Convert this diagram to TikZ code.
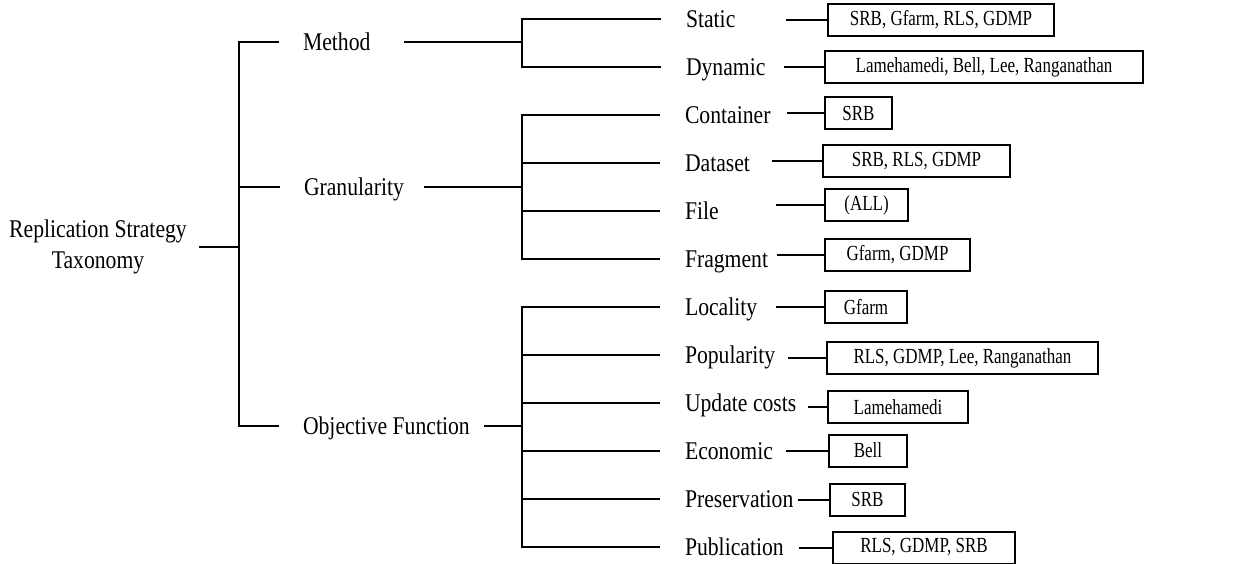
\documentclass[tikz,border=0pt]{standalone}
\usepackage{fontspec}
\setmainfont{Liberation Serif}[FakeStretch=0.85]
\newfontfamily\tagfont{Liberation Serif}[FakeStretch=0.79]
\usetikzlibrary{positioning}

\begin{document}
\begin{tikzpicture}[x=1pt, y=-1pt, line width=2pt,
				   every node/.style={inner sep=0pt},
				   lbl/.style={anchor=west, text height=17pt, text depth=0pt, font=\fontsize{25.5}{31}\selectfont},
				   tag/.style={draw, anchor=west, minimum height=32pt, font=\tagfont\fontsize{21.5}{26}\selectfont},
				   fork/.style={shorten >=24pt}]
\useasboundingbox (0,0) rectangle (1241,564);

% root and first level
\node[align=center, font=\fontsize{25.5}{31}\selectfont] (root) at (98,247) {Replication Strategy\\Taxonomy};
\coordinate (rfork) at (239,247);
\node[lbl] (method) at (302,42) {Method};
\node[lbl] (gran) at (303,187) {Granularity};
\node[lbl] (objfn) at (302,426) {Objective Function};
\draw ([xshift=11pt]root.east) -- (rfork);
\draw[shorten >=23pt] (rfork) |- (method.west);
\draw[shorten >=23pt] (rfork) |- (gran.west);
\draw[shorten >=23pt] (rfork) |- (objfn.west);

% second level
\coordinate (mfork) at (522,42);
\coordinate (gfork) at (522,187);
\coordinate (ofork) at (522,426);
\draw ([xshift=33pt]method.east) -- (mfork);
\draw ([xshift=19pt]gran.east) -- (gfork);
\draw ([xshift=13pt]objfn.east) -- (ofork);

\node[lbl] (static) at (685,19) {Static};
\node[lbl] (dynamic) at (685,67) {Dynamic};
\node[lbl] (container) at (684,115) {Container};
\node[lbl] (dataset) at (684,163) {Dataset};
\node[lbl] (file) at (684,211) {File};
\node[lbl] (fragment) at (684,259) {Fragment};
\node[lbl] (locality) at (684,307) {Locality};
\node[lbl] (popularity) at (684,355) {Popularity};
\node[lbl] (update) at (684,403) {Update costs};
\node[lbl] (economic) at (684,451) {Economic};
\node[lbl] (preserv) at (684,499) {Preservation};
\node[lbl] (publication) at (684,547) {Publication};

\draw[fork] (mfork) |- (static.west);
\draw[fork] (mfork) |- (dynamic.west);
\draw[fork] (gfork) |- (container.west);
\draw[fork] (gfork) |- (dataset.west);
\draw[fork] (gfork) |- (file.west);
\draw[fork] (gfork) |- (fragment.west);
\draw[fork] (ofork) |- (locality.west);
\draw[fork] (ofork) |- (popularity.west);
\draw[fork] (ofork) |- (update.west);
\draw[fork] (ofork) |- (economic.west);
\draw[fork] (ofork) |- (preserv.west);
\draw[fork] (ofork) |- (publication.west);

% systems
\node[tag, minimum width=226pt] (staticb) at (827,20) {SRB, Gfarm, RLS, GDMP};
\node[tag, minimum width=318pt] (dynamicb) at (824,67.5) {Lamehamedi, Bell, Lee, Ranganathan};
\node[tag, minimum width=67pt] (containerb) at (824,113) {SRB};
\node[tag, minimum width=187pt] (datasetb) at (822,161.5) {SRB, RLS, GDMP};
\node[tag, minimum width=83pt] (fileb) at (824,205) {(ALL)};
\node[tag, minimum width=145pt] (fragmentb) at (824,255) {Gfarm, GDMP};
\node[tag, minimum width=82pt] (localityb) at (824,307) {Gfarm};
\node[tag, minimum width=271pt] (popularityb) at (826,358) {RLS, GDMP, Lee, Ranganathan};
\node[tag, minimum width=140pt] (updateb) at (827,407) {Lamehamedi};
\node[tag, minimum width=78pt] (economicb) at (828,450.5) {Bell};
\node[tag, minimum width=75pt] (preservb) at (829,499.5) {SRB};
\node[tag, minimum width=182pt] (publicationb) at (832,547.5) {RLS, GDMP, SRB};

\draw (staticb.west) -- ++(-41,0);
\draw (dynamicb.west) -- ++(-40,0);
\draw (containerb.west) -- ++(-37,0);
\draw (datasetb.west) -- ++(-50,0);
\draw (fileb.west) -- ++(-48,0);
\draw (fragmentb.west) -- ++(-47,0);
\draw (localityb.west) -- ++(-48,0);
\draw (popularityb.west) -- ++(-38,0);
\draw (updateb.west) -- ++(-19,0);
\draw (economicb.west) -- ++(-42,0);
\draw (preservb.west) -- ++(-31,0);
\draw (publicationb.west) -- ++(-33,0);
\end{tikzpicture}
\end{document}
